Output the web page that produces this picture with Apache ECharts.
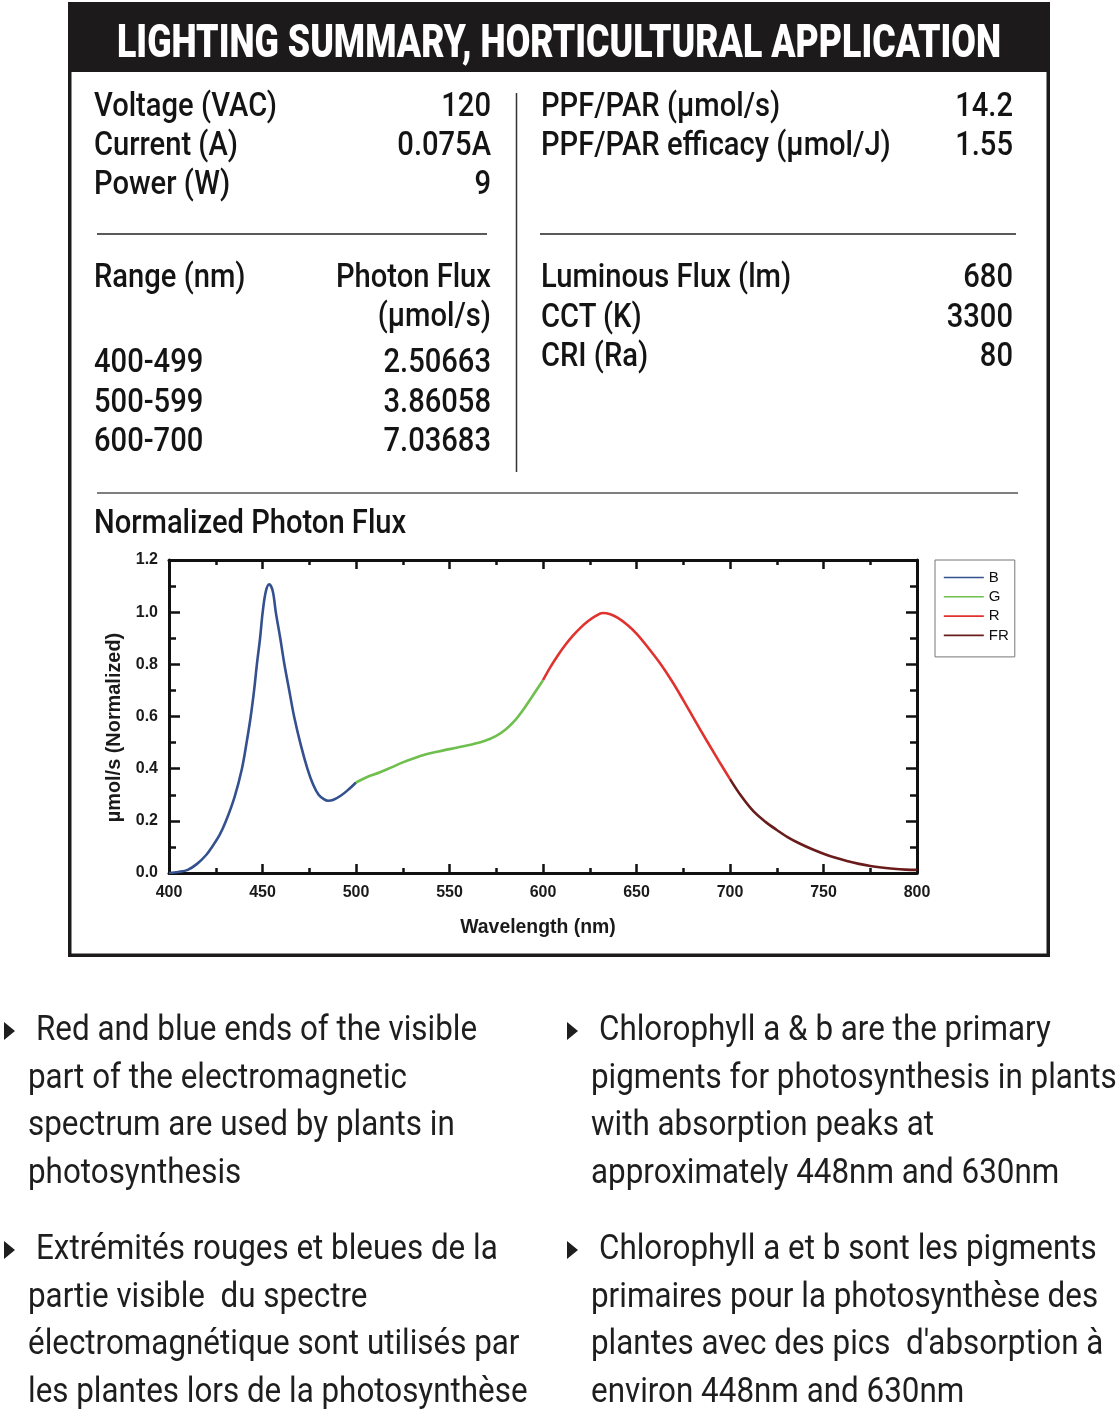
<!DOCTYPE html>
<html><head><meta charset="utf-8">
<script src="https://cdn.jsdelivr.net/npm/echarts@6/dist/echarts.min.js"></script>
<style>
html,body{margin:0;padding:0;background:#fff;}
#chart{position:absolute;left:0;top:0;width:1120px;height:1413px;}
#ov{position:absolute;left:0;top:0;pointer-events:none;}
text{white-space:pre;}
</style></head><body>
<div id="chart"></div>
<svg id="ov" width="1120" height="1413" xmlns="http://www.w3.org/2000/svg"></svg>
<script>
// ---------------- data ----------------
const titleText = 'LIGHTING SUMMARY, HORTICULTURAL APPLICATION';
const elecLabels = ['Voltage (VAC)', 'Current (A)', 'Power (W)'];
const elecValues = ['120', '0.075A', '9'];
const ppfLabels = ['PPF/PAR (µmol/s)', 'PPF/PAR efficacy (µmol/J)'];
const ppfValues = ['14.2', '1.55'];
const rangeHeader = ['Range (nm)', 'Photon Flux', '(µmol/s)'];
const rangeLabels = ['400-499', '500-599', '600-700'];
const rangeFlux = ['2.50663', '3.86058', '7.03683'];
const lumLabels = ['Luminous Flux (lm)', 'CCT (K)', 'CRI (Ra)'];
const lumValues = ['680', '3300', '80'];
const chartTitle = 'Normalized Photon Flux';
const bulletsEnL = ['Red and blue ends of the visible', 'part of the electromagnetic', 'spectrum are used by plants in', 'photosynthesis'];
const bulletsEnR = ['Chlorophyll a & b are the primary', 'pigments for photosynthesis in plants', 'with absorption peaks at', 'approximately 448nm and 630nm'];
const bulletsFrL = ['Extrémités rouges et bleues de la', 'partie visible  du spectre', 'électromagnétique sont utilisés par', 'les plantes lors de la photosynthèse'];
const bulletsFrR = ['Chlorophyll a et b sont les pigments', 'primaires pour la photosynthèse des', "plantes avec des pics  d'absorption à", 'environ 448nm and 630nm'];

const seriesNames = ['B', 'G', 'R', 'FR'];
const blueX = [400, 405, 410, 415, 420, 423, 427, 430.5, 435, 439, 441.5, 443.7, 445.5, 447, 448.7, 450.1, 451.8, 453.6, 455.5, 457.1, 459.5, 461.7, 464.3, 466.9, 470.5, 474, 477, 480, 483, 485, 488, 492, 496, 500];
const blueY = [0.000, 0.004, 0.012, 0.035, 0.070, 0.100, 0.145, 0.200, 0.290, 0.400, 0.500, 0.600, 0.700, 0.800, 0.900, 1.000, 1.080, 1.107, 1.080, 1.000, 0.900, 0.800, 0.700, 0.600, 0.490, 0.400, 0.340, 0.300, 0.282, 0.277, 0.281, 0.297, 0.320, 0.347];
const greenX = [500, 506, 512.5, 519, 525, 531, 537.5, 544, 550, 556, 562.5, 569, 575, 580, 585, 590, 595, 600];
const greenY = [0.347, 0.368, 0.385, 0.405, 0.424, 0.440, 0.455, 0.466, 0.475, 0.484, 0.494, 0.507, 0.526, 0.550, 0.585, 0.632, 0.685, 0.739];
const redX = [600, 604, 608, 612, 616, 620, 624, 628, 632, 636, 640, 645, 650, 656, 662.5, 669, 675, 681, 687.5, 694, 700];
const redY = [0.739, 0.790, 0.835, 0.875, 0.910, 0.940, 0.965, 0.985, 0.997, 0.992, 0.978, 0.952, 0.918, 0.866, 0.805, 0.735, 0.663, 0.588, 0.508, 0.430, 0.360];
const farRedX = [700, 706, 712.5, 719, 725, 731, 737.5, 744, 750, 756, 762.5, 769, 775, 781, 787.5, 794, 800];
const farRedY = [0.360, 0.295, 0.237, 0.196, 0.165, 0.137, 0.112, 0.091, 0.074, 0.059, 0.046, 0.035, 0.027, 0.021, 0.016, 0.013, 0.012];

// ---------------- fonts ----------------
function hasFont(f) {
  const c = document.createElement('canvas').getContext('2d');
  const s = 'mmmmmmmmmmlli10WQ';
  c.font = '40px monospace'; const a = c.measureText(s).width;
  c.font = '40px "' + f + '", monospace'; const b = c.measureText(s).width;
  return Math.abs(a - b) > 0.5;
}
const hasNarrow = hasFont('Liberation Sans Narrow');
const axFont = hasNarrow ? '"Liberation Sans Narrow", "Liberation Sans", Arial, sans-serif' : '"Liberation Sans", Arial, sans-serif';
const legFont = '"Liberation Sans", Arial, sans-serif';
const tickSize = hasNarrow ? 19 : 16;
const xNameSize = hasNarrow ? 23.5 : 19.4;
const yNameSize = hasNarrow ? 24 : 19.9;

// ---------------- chart ----------------
const colors = ['#34508f', '#6fbf4e', '#e0322e', '#6a1c1c'];
const zip = (xs, ys) => xs.map((x, i) => [x, ys[i]]);
const seriesData = [zip(blueX, blueY), zip(greenX, greenY), zip(redX, redY), zip(farRedX, farRedY)];
const axisColor = '#111';

function xAxisDef(pos, labels) {
  return {
    type: 'value', min: 400, max: 800, interval: 50, position: pos,
    axisLine: { show: true, onZero: false, lineStyle: { color: axisColor, width: 3 } },
    axisTick: { show: true, inside: true, length: 9, lineStyle: { color: axisColor, width: 2.5 } },
    minorTick: { show: true, splitNumber: 2, length: 5, lineStyle: { color: axisColor, width: 2.5 } },
    splitLine: { show: false }, minorSplitLine: { show: false },
    axisLabel: { show: labels, fontSize: tickSize, fontWeight: 'bold', color: '#1a1a1a', margin: 12, fontFamily: axFont },
    name: labels ? 'Wavelength (nm)' : '', nameLocation: 'middle', nameGap: 45,
    nameTextStyle: { fontSize: xNameSize, fontWeight: 'bold', color: '#1a1a1a', fontFamily: axFont, padding: [0, 10, 0, 0] }
  };
}
function yAxisDef(pos, labels) {
  return {
    type: 'value', min: 0, max: 1.2, interval: 0.2, position: pos,
    axisLine: { show: true, onZero: false, lineStyle: { color: axisColor, width: 3 } },
    axisTick: { show: true, inside: true, length: 11, lineStyle: { color: axisColor, width: 2.5 } },
    minorTick: { show: true, splitNumber: 2, length: 7, lineStyle: { color: axisColor, width: 2.5 } },
    splitLine: { show: false }, minorSplitLine: { show: false },
    axisLabel: { show: labels, fontSize: tickSize, fontWeight: 'bold', color: '#1a1a1a', margin: 11, fontFamily: axFont, formatter: v => v.toFixed(1) },
    name: labels ? 'µmol/s (Normalized)' : '', nameLocation: 'middle', nameGap: 43,
    nameTextStyle: { fontSize: yNameSize, fontWeight: 'bold', color: '#1a1a1a', fontFamily: axFont, padding: [0, 22, 0, 0] }
  };
}

const chart = echarts.init(document.getElementById('chart'));
chart.setOption({
  animation: false,
  grid: { left: 169, top: 560, width: 748, height: 313, containLabel: false },
  legend: {
    orient: 'vertical', left: 935, top: 560, data: seriesNames,
    itemWidth: 40, itemHeight: 14, itemGap: 4.3, padding: [10, 6, 14, 8],
    borderColor: '#777', borderWidth: 1, selectedMode: false,
    lineStyle: { width: 1.6 },
    itemStyle: { opacity: 0 },
    textStyle: { fontSize: 15, color: '#111', fontFamily: legFont, lineHeight: 14 }
  },
  xAxis: [xAxisDef('bottom', true), xAxisDef('top', false)],
  yAxis: [yAxisDef('left', true), yAxisDef('right', false)],
  series: seriesNames.map((n, i) => ({
    name: n, type: 'line', data: seriesData[i], smooth: 0.35, symbol: 'none',
    lineStyle: { color: colors[i], width: 2.6 }, itemStyle: { color: colors[i] }
  }))
});

// ---------------- text & frame overlay ----------------
const NS = 'http://www.w3.org/2000/svg';
const svg = document.getElementById('ov');
function el(tag, attrs) {
  const e = document.createElementNS(NS, tag);
  for (const k in attrs) e.setAttribute(k, attrs[k]);
  svg.appendChild(e); return e;
}
function txt(s, x, y, style, anchor) {
  const t = el('text', { x: x, y: y, 'text-anchor': anchor || 'start', style: style });
  t.textContent = s; return t;
}
function fitGroup(items, scale) {
  items.forEach(t => {
    const w = t.getComputedTextLength();
    t.setAttribute('textLength', (w * scale).toFixed(2));
    t.setAttribute('lengthAdjust', 'spacingAndGlyphs');
  });
}

// frame and header
el('rect', { x: 68, y: 2, width: 982, height: 70, fill: '#1c1a1a' });
el('rect', { x: 69.75, y: 3.75, width: 978.5, height: 951.5, fill: 'none', stroke: '#1c1a1a', 'stroke-width': 3.5 });
const title = txt(titleText, 117, 57, 'font-family:Roboto,"Liberation Sans",sans-serif;font-weight:900;font-size:47px;fill:#fff;');
title.setAttribute('textLength', 884); title.setAttribute('lengthAdjust', 'spacingAndGlyphs');

// rules
el('line', { x1: 97, x2: 487, y1: 234, y2: 234, stroke: '#222', 'stroke-width': 1.5 });
el('line', { x1: 540, x2: 1016, y1: 234, y2: 234, stroke: '#222', 'stroke-width': 1.5 });
el('line', { x1: 516.5, x2: 516.5, y1: 93, y2: 472, stroke: '#333', 'stroke-width': 1.5 });
el('line', { x1: 97, x2: 1018, y1: 493, y2: 493, stroke: '#555', 'stroke-width': 1.5 });

// table text
const tStyle = 'font-family:Roboto,"Liberation Sans",sans-serif;font-weight:500;font-size:33.5px;fill:#141414;';
const tableItems = [];
const elecY = [116, 155, 194];
elecLabels.forEach((s, i) => tableItems.push(txt(s, 94, elecY[i], tStyle)));
elecValues.forEach((s, i) => tableItems.push(txt(s, 491, elecY[i], tStyle, 'end')));
ppfLabels.forEach((s, i) => tableItems.push(txt(s, 541, elecY[i], tStyle)));
ppfValues.forEach((s, i) => tableItems.push(txt(s, 1013, elecY[i], tStyle, 'end')));
tableItems.push(txt(rangeHeader[0], 94, 287, tStyle));
tableItems.push(txt(rangeHeader[1], 491, 287, tStyle, 'end'));
tableItems.push(txt(rangeHeader[2], 491, 326, tStyle, 'end'));
const rangeY = [372, 411.5, 451];
rangeLabels.forEach((s, i) => tableItems.push(txt(s, 94, rangeY[i], tStyle)));
rangeFlux.forEach((s, i) => tableItems.push(txt(s, 491, rangeY[i], tStyle, 'end')));
const lumY = [287, 326.5, 366];
lumLabels.forEach((s, i) => tableItems.push(txt(s, 541, lumY[i], tStyle)));
lumValues.forEach((s, i) => tableItems.push(txt(s, 1013, lumY[i], tStyle, 'end')));
tableItems.push(txt(chartTitle, 94, 533, tStyle));
const tScale = 183 / tableItems[0].getComputedTextLength();
fitGroup(tableItems, tScale);

// bullets
const bStyle = 'font-family:Roboto,"Liberation Sans",sans-serif;font-weight:400;font-size:35px;fill:#1e1e1e;';
const bulletItems = [];
function bulletBlock(lines, xFirst, xRest, y0, triX) {
  const lh = 47.6;
  lines.forEach((s, i) => bulletItems.push(txt(s, i === 0 ? xFirst : xRest, y0 + i * lh, bStyle)));
  el('polygon', { points: `${triX},${y0 - 18} ${triX},${y0} ${triX + 11},${y0 - 9}`, fill: '#1e1e1e' });
}
bulletBlock(bulletsEnL, 36, 28, 1040, 4);
bulletBlock(bulletsEnR, 599, 591, 1040, 567);
bulletBlock(bulletsFrL, 36, 28, 1259, 4);
bulletBlock(bulletsFrR, 599, 591, 1259, 567);
const bScale = 379 / bulletItems[1].getComputedTextLength();
fitGroup(bulletItems, bScale);
</script>
</body></html>
